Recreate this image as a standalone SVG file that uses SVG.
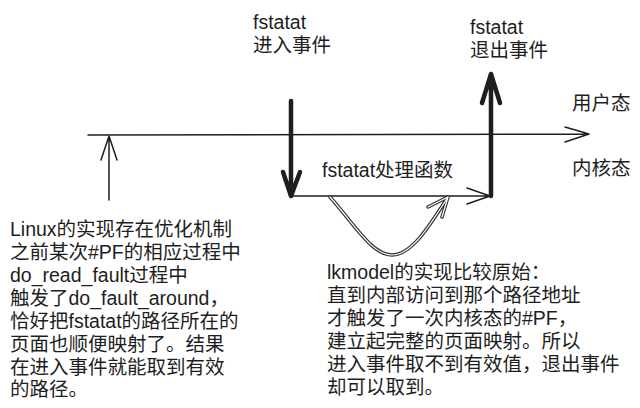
<svg xmlns="http://www.w3.org/2000/svg" width="640" height="408" viewBox="0 0 640 408">
<style>
text{font-family:"Liberation Sans","Noto Sans CJK SC",sans-serif;font-size:19.5px;fill:#1e1e1e}
.thin{fill:none;stroke:#1e1e1e;stroke-width:1.5;stroke-linecap:round;stroke-linejoin:round}
.thick{fill:none;stroke:#1e1e1e;stroke-width:4.5;stroke-linecap:round;stroke-linejoin:round}
.dbl{fill:none;stroke:#333;stroke-width:3.5;stroke-linecap:round;stroke-linejoin:round}
.dbli{fill:none;stroke:#fff;stroke-width:1.2;stroke-linecap:round;stroke-linejoin:round}
</style>
<rect width="640" height="408" fill="#fff"/>
<g id="connectors">
  <path class="thin" d="M88 135 L589 134 M565 127 L589 134 L565 142"/>
  <path class="thin" d="M109 200 L109 136 M101 160 L109 136 L117 160"/>
  <path class="thick" d="M291 101 L291 196 M283 172 L291 196 L300 172"/>
  <path class="thick" d="M491 196 L491 74 M482 103 L491 74 L500 103"/>
  <path class="thin" d="M291 196 L490 196 M467 188 L490 196 L467 204"/>
  <path class="dbl" d="M330 197 C355 225 372 255 392 255 C412 255 430 225 448 197 M428 207 L448 197 L442 217"/>
  <path class="dbli" d="M330 197 C355 225 372 255 392 255 C412 255 430 225 448 197 M428 207 L448 197 L442 217"/>
</g>
<g id="enter-label"><text x="253" y="29">fstatat</text><text x="253" y="52">进入事件</text></g>
<g id="exit-label"><text x="470" y="34">fstatat</text><text x="470" y="57">退出事件</text></g>
<g id="user-mode"><text x="572" y="110">用户态</text></g>
<g id="kernel-mode"><text x="572" y="175">内核态</text></g>
<g id="handler"><text x="322" y="177">fstatat处理函数</text></g>
<g id="linux-note">
<text x="10" y="236">Linux的实现存在优化机制</text>
<text x="10" y="259">之前某次#PF的相应过程中</text>
<text x="10" y="282">do_read_fault过程中</text>
<text x="10" y="305">触发了do_fault_around，</text>
<text x="10" y="328">恰好把fstatat的路径所在的</text>
<text x="10" y="351">页面也顺便映射了。结果</text>
<text x="10" y="374">在进入事件就能取到有效</text>
<text x="10" y="396">的路径。</text>
</g>
<g id="lkmodel-note">
<text x="327" y="279">lkmodel的实现比较原始：</text>
<text x="327" y="302">直到内部访问到那个路径地址</text>
<text x="327" y="325">才触发了一次内核态的#PF，</text>
<text x="327" y="348">建立起完整的页面映射。所以</text>
<text x="327" y="371">进入事件取不到有效值，退出事件</text>
<text x="327" y="394">却可以取到。</text>
</g>
</svg>
